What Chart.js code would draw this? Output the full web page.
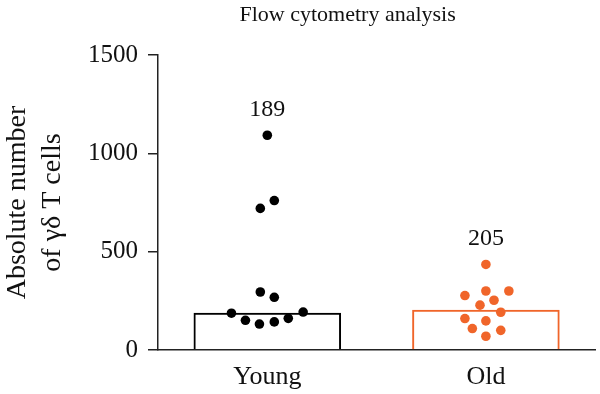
<!DOCTYPE html>
<html>
<head>
<meta charset="utf-8">
<script src="https://cdn.jsdelivr.net/npm/chart.js@4"></script>
<style>
  body { margin: 0; background: #fff; }
</style>
</head>
<body>
<canvas id="chart" width="600" height="394"></canvas>
<script>
const chartTitle = 'Flow cytometry analysis';
const groups = ["Young", "Old"];
const medians = [189, 205];

const youngValues = [1092, 760, 720, 295, 268, 187, 193, 151, 132, 143, 161];
const youngJitter = [0, 0.032, -0.032, -0.032, 0.032, -0.164, 0.164, -0.1, -0.036, 0.032, 0.096];
const oldValues = [435, 277, 300, 300, 253, 228, 192, 160, 148, 109, 100, 70];
const oldJitter = [0, -0.096, 0, 0.105, 0.037, -0.027, 0.068, -0.096, 0, -0.062, 0.068, 0];

const yTicks = [0, 500, 1000, 1500];

const orange = '#F0652A';
const serif = 'Liberation Serif';

function toPoints(values, jitter, groupIndex) {
    return values.map((v, i) => ({ x: groupIndex + jitter[i], y: v }));
}

// title (sits a bit left of the plot centre) and median values above the dots
const annotations = {
    id: 'annotations',
    afterDatasetsDraw(chart) {
        const ctx = chart.ctx;
        const xScale = chart.scales.x;
        const yScale = chart.scales.y;
        const all = [youngValues, oldValues];
        ctx.save();
        ctx.fillStyle = '#111';
        ctx.textAlign = 'center';
        ctx.textBaseline = 'middle';

        ctx.font = `22px "${serif}"`;
        ctx.fillText(chartTitle, (xScale.left + xScale.right) / 2 - 29, 15);

        ctx.font = `24px "${serif}"`;
        medians.forEach((m, i) => {
            const top = Math.max(...all[i]);
            ctx.fillText(String(m), xScale.getPixelForValue(i), yScale.getPixelForValue(top) - 26);
        });
        ctx.restore();
    }
};

new Chart(document.getElementById('chart').getContext('2d'), {
    type: 'bar',
    data: {
        labels: groups,
        datasets: [
            {
                type: 'scatter',
                data: toPoints(youngValues, youngJitter, 0),
                xAxisID: 'xs',
                backgroundColor: '#000',
                borderWidth: 0,
                pointRadius: 4.8
            },
            {
                type: 'scatter',
                data: toPoints(oldValues, oldJitter, 1),
                xAxisID: 'xs',
                backgroundColor: orange,
                borderWidth: 0,
                pointRadius: 4.8
            },
            {
                type: 'bar',
                data: medians,
                xAxisID: 'x',
                grouped: false,
                backgroundColor: 'rgba(255,255,255,0)',
                borderColor: ['#000', orange],
                borderWidth: 2,
                categoryPercentage: 1,
                barPercentage: 0.675
            }
        ]
    },
    options: {
        responsive: false,
        animation: false,
        layout: { padding: { left: 0, right: 2, top: 55, bottom: 0 } },
        plugins: {
            legend: { display: false },
            tooltip: { enabled: false },
            title: { display: false }
        },
        scales: {
            x: {
                type: 'category',
                offset: true,
                grid: { display: false },
                border: { color: '#222', width: 1.5 },
                ticks: {
                    color: '#111',
                    font: { family: serif, size: 26 },
                    padding: 4
                },
                afterFit: scale => { scale.height = 44; }
            },
            xs: {
                type: 'linear',
                display: false,
                offset: false,
                min: -0.5,
                max: 1.5
            },
            y: {
                min: 0,
                max: 1500,
                afterBuildTicks: scale => { scale.ticks = yTicks.map(v => ({ value: v })); },
                grid: {
                    drawOnChartArea: false,
                    color: '#222',
                    tickLength: 10,
                    lineWidth: 1.5
                },
                border: { color: '#222', width: 1.5 },
                ticks: {
                    color: '#111',
                    font: { family: serif, size: 25 },
                    padding: 10,
                    callback: value => String(value)
                },
                title: {
                    display: true,
                    text: ['Absolute number', 'of γδ T cells'],
                    color: '#111',
                    font: { family: serif, size: 28, lineHeight: 1.26 },
                    padding: { top: 0, bottom: 2 }
                },
                afterFit: scale => { scale.width = 158; }
            }
        }
    },
    plugins: [annotations]
});
</script>
</body>
</html>
